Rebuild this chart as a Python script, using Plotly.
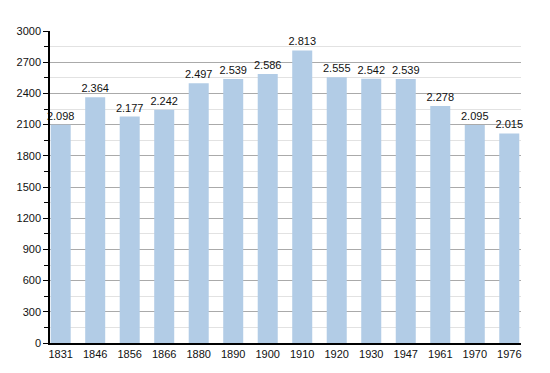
import plotly.graph_objects as go

years = ["1831", "1846", "1856", "1866", "1880", "1890", "1900", "1910", "1920", "1930", "1947", "1961", "1970", "1976"]
population = [2098, 2364, 2177, 2242, 2497, 2539, 2586, 2813, 2555, 2542, 2539, 2278, 2095, 2015]
labels = ["2.098", "2.364", "2.177", "2.242", "2.497", "2.539", "2.586", "2.813", "2.555", "2.542", "2.539", "2.278", "2.095", "2.015"]

x = list(range(len(years)))

fig = go.Figure()
fig.add_trace(go.Bar(
    x=x, y=population, width=0.58,
    marker=dict(color="#b2cce6", line=dict(width=0)),
    text=labels, textposition="outside",
    textfont=dict(family="Liberation Sans, Arial, sans-serif", size=11, color="#111"),
    cliponaxis=False,
))

fig.update_layout(
    width=550, height=373,
    margin=dict(l=42, r=37, t=23, b=38, autoexpand=False),
    plot_bgcolor="white", paper_bgcolor="white",
    showlegend=False,
    font=dict(family="Liberation Sans, Arial, sans-serif", size=11, color="#111"),
    uniformtext=dict(minsize=10, mode="show"),
)
fig.update_xaxes(
    range=[-0.31, 13.34], tickmode="array", tickvals=x, ticktext=years,
    showgrid=False, showline=True, linecolor="black", linewidth=1.5,
    ticks="", zeroline=False, tickfont=dict(size=11), automargin=False,
)
fig.update_yaxes(
    range=[0, 3000], tickmode="linear", tick0=0, dtick=300,
    showgrid=True, gridcolor="#aaaaaa", gridwidth=1,
    showline=True, linecolor="black", linewidth=1.5,
    ticks="outside", ticklen=5, tickcolor="black",
    minor=dict(dtick=150, showgrid=True, gridcolor="#e2e2e2", ticks="outside", ticklen=4, tickcolor="black"),
    zeroline=False, tickfont=dict(size=11), automargin=False,
)

fig.write_html("out.html")
